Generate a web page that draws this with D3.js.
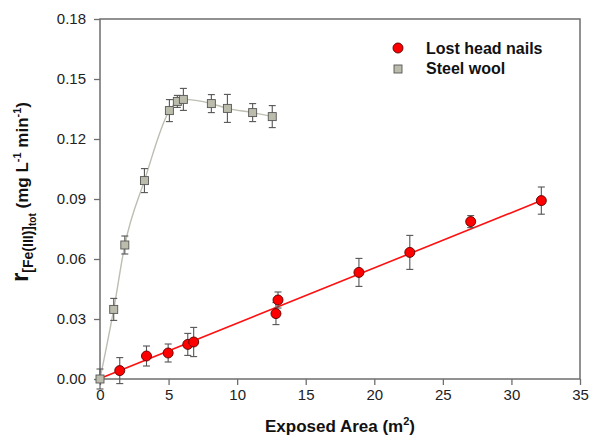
<!DOCTYPE html>
<html>
<head>
<meta charset="utf-8">
<script src="https://cdn.jsdelivr.net/npm/d3@7"></script>
<style>
  body { margin: 0; background: #fff; }
  svg { font-family: "Liberation Sans", Arial, sans-serif; }
</style>
</head>
<body>
<svg id="chart" width="590" height="437"></svg>
<script>
// exposed area (m2), rate, error
const nailArea = [1.44, 3.39, 4.97, 6.40, 6.83, 12.83, 12.98, 18.88, 22.59, 27.03, 32.18];
const nailRate = [0.0042, 0.0115, 0.0130, 0.0173, 0.0185, 0.0327, 0.0395, 0.0533, 0.0633, 0.0787, 0.0892];
const nailErr  = [0.0065, 0.0050, 0.0045, 0.0055, 0.0073, 0.0055, 0.0040, 0.0070, 0.0085, 0.0030, 0.0068];

const woolArea = [0, 1.00, 1.81, 3.24, 5.06, 5.64, 6.08, 8.12, 9.29, 11.13, 12.56];
const woolRate = [0, 0.0348, 0.0670, 0.0992, 0.1342, 0.1388, 0.1398, 0.1377, 0.1353, 0.1332, 0.1312];
const woolErr  = [0.005, 0.0055, 0.0045, 0.0060, 0.0055, 0.0030, 0.0055, 0.0045, 0.0070, 0.0045, 0.0055];

// linear fit for the nails, drawn between its two ends
const fitArea = [0, 32.18];
const fitRate = [0.0003, 0.0892];

const xTicks = [0, 5, 10, 15, 20, 25, 30, 35];
const yTicks = [0, 0.03, 0.06, 0.09, 0.12, 0.15, 0.18];

const margin = {top: 19, right: 10, bottom: 58, left: 100};
const width = 590 - margin.left - margin.right;
const height = 437 - margin.top - margin.bottom;

const svg = d3.select("#chart");
const g = svg.append("g").attr("transform", `translate(${margin.left},${margin.top})`);

const x = d3.scaleLinear().domain([0, 35]).range([0, width]);
const y = d3.scaleLinear().domain([0, 0.18]).range([height, 0]);

const axisColor = "#6e6e6e";

// axes
const xAxis = g.append("g")
    .attr("transform", `translate(0,${height})`)
    .call(d3.axisBottom(x).tickValues(xTicks).tickSize(6).tickPadding(4).tickFormat(d3.format("d")));
const yAxis = g.append("g")
    .call(d3.axisLeft(y).tickValues(yTicks).tickSize(6).tickPadding(8).tickFormat(d3.format(".2f")));
[xAxis, yAxis].forEach(a => {
    a.select(".domain").remove();
    a.selectAll("line").attr("stroke", axisColor).attr("stroke-width", 1.3);
    a.selectAll("text").attr("fill", "#222").style("font-size", "15px")
        .style("font-family", "'Liberation Sans', Arial, sans-serif");
});

// frame
g.append("rect")
    .attr("width", width).attr("height", height)
    .attr("fill", "none").attr("stroke", axisColor).attr("stroke-width", 1.5);

// steel wool curve
const wool = woolArea.map((a, i) => ({a, r: woolRate[i], e: woolErr[i]}));
const nails = nailArea.map((a, i) => ({a, r: nailRate[i], e: nailErr[i]}));

g.append("path")
    .datum(wool)
    .attr("d", d3.line().x(d => x(d.a)).y(d => y(d.r)).curve(d3.curveMonotoneX))
    .attr("fill", "none").attr("stroke", "#bdbdb2").attr("stroke-width", 1.4);

// nail fit line
g.append("path")
    .datum(fitArea.map((a, i) => ({a, r: fitRate[i]})))
    .attr("d", d3.line().x(d => x(d.a)).y(d => y(d.r)))
    .attr("fill", "none").attr("stroke", "#ff1010").attr("stroke-width", 1.6);

// error bars
function errorBars(data) {
    const eb = g.append("g").attr("stroke", "#555").attr("stroke-width", 1.1);
    eb.selectAll(".v").data(data).join("line")
        .attr("x1", d => x(d.a)).attr("x2", d => x(d.a))
        .attr("y1", d => y(d.r - d.e)).attr("y2", d => y(d.r + d.e));
    [-1, 1].forEach(s => {
        eb.selectAll(".c" + s).data(data).join("line")
            .attr("x1", d => x(d.a) - 3.5).attr("x2", d => x(d.a) + 3.5)
            .attr("y1", d => y(d.r + s * d.e)).attr("y2", d => y(d.r + s * d.e));
    });
}
errorBars(wool);
errorBars(nails);

// markers
g.selectAll(".wool").data(wool).join("rect")
    .attr("x", d => x(d.a) - 4).attr("y", d => y(d.r) - 4)
    .attr("width", 8).attr("height", 8)
    .attr("fill", "#bcbcac").attr("stroke", "#555").attr("stroke-width", 0.9);

g.selectAll(".nail").data(nails).join("circle")
    .attr("cx", d => x(d.a)).attr("cy", d => y(d.r)).attr("r", 5)
    .attr("fill", "#ff0000").attr("stroke", "#5a0000").attr("stroke-width", 0.9);

// legend
const legend = svg.append("g").attr("transform", "translate(398,48)");
legend.append("circle").attr("cx", 0).attr("cy", 0).attr("r", 5)
    .attr("fill", "#ff0000").attr("stroke", "#5a0000").attr("stroke-width", 0.9);
legend.append("rect").attr("x", -4).attr("y", 17).attr("width", 8).attr("height", 8)
    .attr("fill", "#bcbcac").attr("stroke", "#555").attr("stroke-width", 0.9);
legend.selectAll("text").data(["Lost head nails", "Steel wool"]).join("text")
    .attr("x", 28).attr("y", (d, i) => 6 + i * 20)
    .attr("font-size", 16).attr("font-weight", "bold").attr("fill", "#111")
    .text(d => d);

// x title
const xt = svg.append("text")
    .attr("x", margin.left + width / 2).attr("y", 432)
    .attr("text-anchor", "middle").attr("font-size", 17).attr("font-weight", "bold").attr("fill", "#111");
xt.append("tspan").text("Exposed Area (m");
xt.append("tspan").attr("dy", -7).attr("font-size", 11).text("2");
xt.append("tspan").attr("dy", 7).text(")");

// y title
const yt = svg.append("text")
    .attr("transform", "translate(28,192) rotate(-90)")
    .attr("text-anchor", "middle").attr("font-weight", "bold").attr("fill", "#111");
yt.append("tspan").attr("font-size", 24).text("r");
yt.append("tspan").attr("font-size", 14).attr("dy", 5).text("[Fe(III)]");
yt.append("tspan").attr("font-size", 10).attr("dy", 3).text("tot");
yt.append("tspan").attr("font-size", 17).attr("dy", -8).text(" (mg L");
yt.append("tspan").attr("font-size", 11).attr("dy", -7).text("-1");
yt.append("tspan").attr("font-size", 17).attr("dy", 7).text(" min");
yt.append("tspan").attr("font-size", 11).attr("dy", -7).text("-1");
yt.append("tspan").attr("font-size", 17).attr("dy", 7).text(")");
</script>
</body>
</html>
